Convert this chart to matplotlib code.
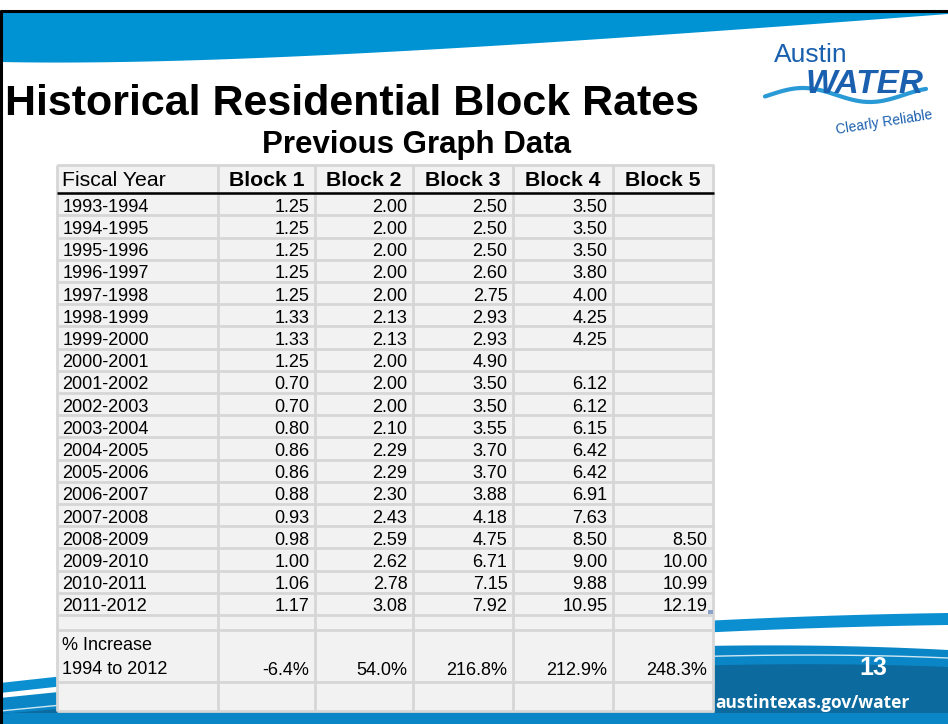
import numpy as np
import matplotlib
matplotlib.use("Agg")
import matplotlib.pyplot as plt
from matplotlib.patches import Rectangle

# ---------------- data ----------------
fiscal_years = ['1993-1994', '1994-1995', '1995-1996', '1996-1997', '1997-1998',
                '1998-1999', '1999-2000', '2000-2001', '2001-2002', '2002-2003',
                '2003-2004', '2004-2005', '2005-2006', '2006-2007', '2007-2008',
                '2008-2009', '2009-2010', '2010-2011', '2011-2012']
block1 = [1.25, 1.25, 1.25, 1.25, 1.25, 1.33, 1.33, 1.25, 0.70, 0.70,
          0.80, 0.86, 0.86, 0.88, 0.93, 0.98, 1.00, 1.06, 1.17]
block2 = [2.00, 2.00, 2.00, 2.00, 2.00, 2.13, 2.13, 2.00, 2.00, 2.00,
          2.10, 2.29, 2.29, 2.30, 2.43, 2.59, 2.62, 2.78, 3.08]
block3 = [2.50, 2.50, 2.50, 2.60, 2.75, 2.93, 2.93, 4.90, 3.50, 3.50,
          3.55, 3.70, 3.70, 3.88, 4.18, 4.75, 6.71, 7.15, 7.92]
block4 = [3.50, 3.50, 3.50, 3.80, 4.00, 4.25, 4.25, None, 6.12, 6.12,
          6.15, 6.42, 6.42, 6.91, 7.63, 8.50, 9.00, 9.88, 10.95]
block5 = [None] * 15 + [8.50, 10.00, 10.99, 12.19]
column_headers = ['Fiscal Year', 'Block 1', 'Block 2', 'Block 3', 'Block 4', 'Block 5']
pct_label = ['% Increase', '1994 to 2012']
pct_increase = [-6.4, 54.0, 216.8, 212.9, 248.3]

title = 'Historical Residential Block Rates'
subtitle = 'Previous Graph Data'
page_number = '13'
url = 'austintexas.gov/water'

# ---------------- layout ----------------
W, H = 948, 724
fig = plt.figure(figsize=(W / 100, H / 100), dpi=100)
ax = fig.add_axes([0, 0, 1, 1])
ax.set_xlim(0, W)
ax.set_ylim(H, 0)
ax.axis('off')

FONT = 'Liberation Sans'
BLUE = '#0093d3'


def bezier(p0, p1, p2, p3, n=80):
    t = np.linspace(0, 1, n)[:, None]
    p0, p1, p2, p3 = map(np.array, (p0, p1, p2, p3))
    return ((1 - t) ** 3) * p0 + 3 * ((1 - t) ** 2) * t * p1 + 3 * (1 - t) * t ** 2 * p2 + t ** 3 * p3


def fill_poly(pts, color, z=1):
    ax.add_patch(plt.Polygon(pts, closed=True, facecolor=color, edgecolor='none', zorder=z))


# top wave
top_curve = bezier((948, 14), (500, 48), (200, 66), (0, 62))
fill_poly(np.vstack([[(0, 11), (948, 11)], top_curve]), BLUE, 1)

# bottom waves
s_top = bezier((0, 683), (300, 650), (600, 618), (948, 613))
s_bot = bezier((948, 625), (600, 630), (300, 660), (0, 693))
fill_poly(np.vstack([s_top, s_bot]), '#0b8fd0', 1)
m_top = bezier((0, 698), (350, 662), (650, 634), (948, 650))
fill_poly(np.vstack([m_top, [(948, 724), (0, 724)]]), '#0a86c6', 1)
d_top = bezier((0, 714), (350, 684), (650, 655), (948, 667))
fill_poly(np.vstack([d_top, [(948, 713), (0, 713)]]), '#0c6a9e', 1)
w_line = bezier((0, 711), (350, 677), (650, 645), (948, 658))
ax.plot(w_line[:, 0], w_line[:, 1], color='white', lw=1.0, alpha=0.8, zorder=1)

# frame lines
ax.plot([0, W], [10.5, 10.5], color='black', lw=2.2, zorder=5, solid_capstyle='butt')
ax.plot([1.5, 1.5], [10, H], color='black', lw=2.2, zorder=5, solid_capstyle='butt')

# titles
ax.text(5, 115, title, fontsize=31, fontweight='bold', family=FONT,
        ha='left', va='baseline', zorder=6)
ax.text(417, 153, subtitle, fontsize=22.5, fontweight='bold', family=FONT,
        ha='center', va='baseline', zorder=6)

# logo
LOGO = '#1a60ae'
ax.text(811, 62, 'Austin', fontsize=19, family=FONT, color=LOGO,
        ha='center', va='baseline', zorder=6)
ax.text(865, 93, 'WATER', fontsize=24, fontweight='bold', style='italic', family=FONT,
        color=LOGO, ha='center', va='baseline', zorder=6)
xs = np.linspace(765, 926, 120)
ys = 95 - 7 * np.cos(2 * np.pi * (xs - 803) / 134)
ax.plot(xs, ys, color='#2a9ad6', lw=3, zorder=5, solid_capstyle='round')
ax.text(884, 122, 'Clearly Reliable', fontsize=10, family=FONT, color=LOGO,
        ha='center', va='center', rotation=9, zorder=6)

# footer text
ax.text(873, 675, page_number, fontsize=18, fontweight='bold', family=FONT,
        color='white', ha='center', va='baseline', zorder=6)
ax.text(812, 708, url, fontsize=12.5, fontweight='bold', family='Open Sans',
        color='white', ha='center', va='baseline', zorder=6)

# ---------------- table ----------------
col_edges = [57, 218, 315, 413, 513, 613, 713]
header_top, header_bot = 165, 193.3
n_rows = len(fiscal_years)
row_h = (615 - header_bot) / n_rows
row_edges = [header_bot + i * row_h for i in range(n_rows + 1)]
blank_bot = 630
pct_bot = 682
table_bot = 711

ax.add_patch(Rectangle((col_edges[0], header_top), col_edges[-1] - col_edges[0],
                       table_bot - header_top, facecolor='#f2f2f2',
                       edgecolor='none', zorder=2))
GRID = '#d6d6d6'
hlines = [header_top] + row_edges + [blank_bot, pct_bot, table_bot]
for y in hlines:
    ax.plot([col_edges[0], col_edges[-1] + 1], [y, y], color=GRID, lw=2.0, zorder=3,
            solid_capstyle='butt')
for x in col_edges:
    ax.plot([x, x], [header_top, table_bot], color=GRID, lw=2.0, zorder=3,
            solid_capstyle='butt')
ax.plot([col_edges[0], col_edges[-1] + 1], [header_bot, header_bot], color='black',
        lw=1.8, zorder=4, solid_capstyle='butt')

PAD = 5.5
# header
ax.text(col_edges[0] + PAD, header_bot - 7, column_headers[0], fontsize=15.3,
        family=FONT, ha='left', va='baseline', zorder=6)
for j, h in enumerate(column_headers[1:]):
    cx = (col_edges[j + 1] + col_edges[j + 2]) / 2
    ax.text(cx, header_bot - 7, h, fontsize=15.3, fontweight='bold', family=FONT,
            ha='center', va='baseline', zorder=6)

blocks = [block1, block2, block3, block4, block5]
FS = 13
for i, yr in enumerate(fiscal_years):
    base = row_edges[i + 1] - 3.6
    ax.text(col_edges[0] + PAD, base, yr, fontsize=FS, family=FONT,
            ha='left', va='baseline', zorder=6)
    for j, b in enumerate(blocks):
        v = b[i]
        if v is None:
            continue
        ax.text(col_edges[j + 2] - PAD, base, f'{v:.2f}', fontsize=FS, family=FONT,
                ha='right', va='baseline', zorder=6)

ax.text(col_edges[0] + PAD, 650, pct_label[0], fontsize=FS, family=FONT,
        ha='left', va='baseline', zorder=6)
ax.text(col_edges[0] + PAD, 674, pct_label[1], fontsize=FS, family=FONT,
        ha='left', va='baseline', zorder=6)
for j, p in enumerate(pct_increase):
    ax.text(col_edges[j + 2] - PAD, 675, f'{p:.1f}%', fontsize=FS, family=FONT,
            ha='right', va='baseline', zorder=6)

# selection handle
ax.add_patch(Rectangle((708, 610), 5, 4, facecolor='#8aa2c8', edgecolor='none', zorder=7))

fig.savefig('out.png', dpi=100)
